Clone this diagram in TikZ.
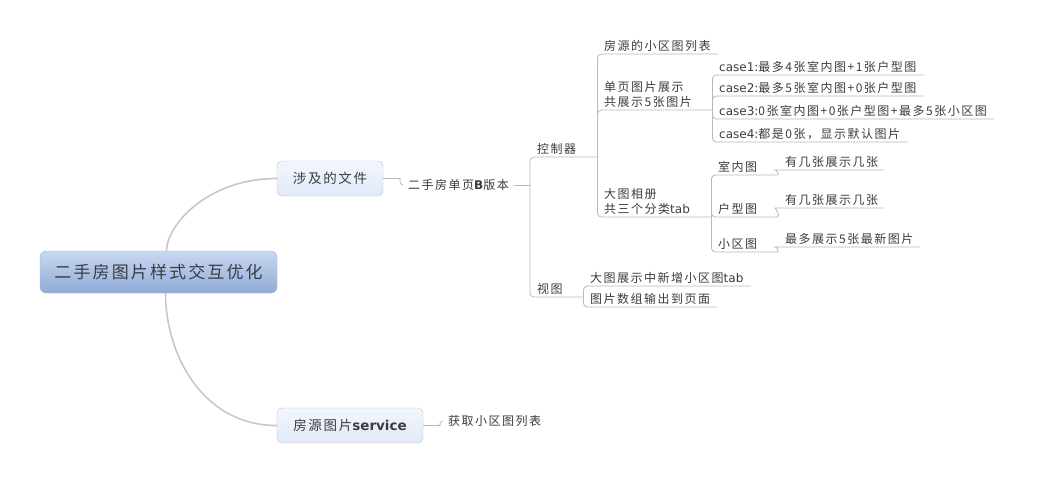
\documentclass[tikz,border=0pt]{standalone}
\usepackage{fontspec}
\setmainfont{Noto Sans CJK SC}[LetterSpace=12.5]
\newfontfamily\latfont{DejaVu Sans}
\newcommand{\lat}[1]{{\latfont #1}}
\definecolor{txt}{HTML}{3C3C3C}
\definecolor{linkgrey}{HTML}{B9B9B9}
\definecolor{trunkgrey}{HTML}{C8C8C8}
\definecolor{roottop}{HTML}{C9D8F0}
\definecolor{rootbot}{HTML}{8FABD8}
\definecolor{rootline}{HTML}{A2B5D5}
\definecolor{boxtop}{HTML}{F2F6FD}
\definecolor{boxbot}{HTML}{E1E9F8}
\definecolor{boxline}{HTML}{B7C3D5}
\begin{document}
\begin{tikzpicture}[x=1pt,y=-1pt]
   \tikzset{rootbox/.style = {draw=rootline, rounded corners=6pt, top color=roottop, bottom color=rootbot, minimum width=237pt, minimum height=42pt, font=\fontsize{17}{19}\selectfont, text=txt}}
   \tikzset{topicbox/.style = {draw=boxline, rounded corners=5pt, top color=boxtop, bottom color=boxbot, minimum height=35pt, font=\fontsize{13.5}{15}\selectfont, text=txt}}
   \tikzset{leaf/.style = {anchor=south west, align=left, inner xsep=7pt, inner ysep=2pt, text depth=1pt, font=\fontsize{12}{15}\selectfont, text=txt}}
   \tikzset{twoline/.style = {leaf, text depth=16pt}}
   \tikzset{plain/.style = {anchor=west, inner xsep=5pt, font=\fontsize{12}{15}\selectfont, text=txt}}
   \tikzset{link/.style = {draw=linkgrey, line width=0.8pt, rounded corners=4pt}}
   \tikzset{trunk/.style = {draw=trunkgrey, line width=1.6pt}}
   \fill[white] (0,0) rectangle (1038,482);
   \useasboundingbox (0,0) rectangle (1038,482);

   \node[rootbox] (root) at (158.5,272) {二手房图片样式交互优化};
   \node[topicbox, minimum width=106pt] (files) at (330,178.5) {涉及的文件};
   \node[topicbox, minimum width=146pt] (service) at (350,425.5) {房源图片{\latfont\bfseries service}};
   \node[plain] (page) at (403,185) {二手房单页{\latfont\bfseries B}版本};
   \node[plain] (getlist) at (443,421) {获取小区图列表};

   \node[leaf, text width=53pt] (ctrl) at (530,157) {控制器};
   \node[leaf, text width=39pt] (view) at (530,297) {视图};
   \node[leaf] (ylist) at (597,54) {房源的小区图列表};
   \node[twoline, text width=101pt] (single) at (597,110) {单页图片展示\\共展示5张图片};
   \node[twoline, text width=100pt] (album) at (597,217) {大图相册\\共三个分类\lat{tab}};
   \node[leaf] (case1) at (712,75) {\lat{case1:}最多4张室内图+1张户型图};
   \node[leaf] (case2) at (712,96) {\lat{case2:}最多5张室内图+0张户型图};
   \node[leaf] (case3) at (712,119) {\lat{case3:}0张室内图+0张户型图+最多5张小区图};
   \node[leaf] (case4) at (712,142) {\lat{case4:}都是0张，显示默认图片};
   \node[leaf, text width=52pt] (indoor) at (711,175) {室内图};
   \node[leaf, text width=52pt] (layout) at (711,217) {户型图};
   \node[leaf, text width=52pt] (estate) at (711,252) {小区图};
   \node[leaf, inner xsep=6pt] (nindoor) at (779,170) {有几张展示几张};
   \node[leaf, inner xsep=6pt] (nlayout) at (779,208) {有几张展示几张};
   \node[leaf, inner xsep=6pt] (nestate) at (779,247) {最多展示5张最新图片};
   \node[leaf] (vnew) at (583,286) {大图展示中新增小区图\lat{tab}};
   \node[leaf] (varray) at (583,307) {图片数组输出到页面};

   \draw[trunk] ([xshift=8pt]root.north) .. controls +(0,-25) and +(-70,0) .. (files.west);
   \draw[trunk] ([xshift=7pt]root.south) .. controls +(0,60) and +(-75,0) .. (service.west);
   \draw[link] (files.east) -- ++(13,0) to[out=0,in=180] (page.west);
   \draw[link] (service.east) -- ++(13,0) to[out=0,in=180] (getlist.west);
   \draw[link] (page.east) -- (ctrl.south west |- page.east);
   \draw[link] (ctrl.south west |- page.east) |- (ctrl.south east);
   \draw[link] (view.south west |- page.east) |- (view.south east);
   \foreach \c in {ylist,single,album}
      \draw[link] (ctrl.south east) |- (\c.south east);
   \foreach \c in {case1,case2,case3,case4}
      \draw[link] (single.south east) |- (\c.south east);
   \foreach \c in {indoor,layout,estate}
      \draw[link] (album.south east) |- (\c.south east);
   \draw[link] (indoor.south east) to[out=0,in=180] (nindoor.south west) -- (nindoor.south east);
   \draw[link] (layout.south east) to[out=0,in=180] (nlayout.south west) -- (nlayout.south east);
   \draw[link] (estate.south east) to[out=0,in=180] (nestate.south west) -- (nestate.south east);
   \draw[link] (view.south east) |- (vnew.south east);
   \draw[link] (view.south east) |- (varray.south east);
\end{tikzpicture}
\end{document}
